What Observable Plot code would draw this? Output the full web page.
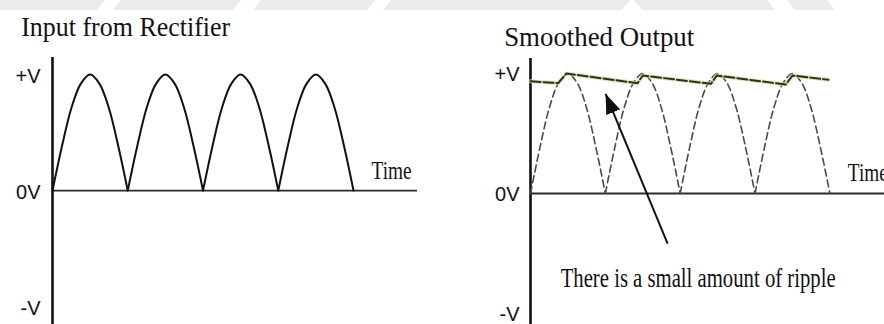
<!DOCTYPE html>
<html>
<head>
<meta charset="utf-8">
<script src="https://cdn.jsdelivr.net/npm/d3@7"></script>
<script src="https://cdn.jsdelivr.net/npm/@observablehq/plot@0.6"></script>
<style>
  html, body { margin: 0; padding: 0; background: #fff; }
  #page { position: relative; width: 884px; height: 324px; overflow: hidden; }
  #charts { display: flex; width: 884px; height: 324px; }
  #charts svg { display: block; flex: none; }
  #band { position: absolute; left: 0; top: 0; }
</style>
</head>
<body>
<div id="page">
  <svg id="band" width="884" height="10" viewBox="0 0 884 10">
    <g fill="#ebebeb">
      <polygon points="0,0 105,0 97,10 0,10"/>
      <polygon points="121,0 241,0 233,10 113,10"/>
      <polygon points="261,0 375,0 367,10 253,10"/>
      <polygon points="391,0 630,0 622,10 383,10"/>
      <polygon points="634,0 767,0 775,10 642,10"/>
      <polygon points="787,0 827,0 835,10 795,10"/>
    </g>
  </svg>
  <div id="charts"></div>
</div>
<script>
// Rectified input: time in half-cycles of the supply, voltage as a fraction of +V
const waveTime = [
  0, 0.125, 0.25, 0.375, 0.5, 0.625, 0.75, 0.875,
  1, 1.125, 1.25, 1.375, 1.5, 1.625, 1.75, 1.875,
  2, 2.125, 2.25, 2.375, 2.5, 2.625, 2.75, 2.875,
  3, 3.125, 3.25, 3.375, 3.5, 3.625, 3.75, 3.875,
  4
];
const waveVolts = [
  0, 0.38, 0.71, 0.92, 1, 0.92, 0.71, 0.38,
  0, 0.38, 0.71, 0.92, 1, 0.92, 0.71, 0.38,
  0, 0.38, 0.71, 0.92, 1, 0.92, 0.71, 0.38,
  0, 0.38, 0.71, 0.92, 1, 0.92, 0.71, 0.38,
  0
];

// Smoothed output: the capacitor tops up at each peak and sags until the next one
const smoothTime  = [0, 0.37, 0.48, 1.43, 1.5, 2.41, 2.49, 3.41, 3.5, 3.98];
const smoothVolts = [0.936, 0.919, 1.0, 0.919, 0.983, 0.914, 0.983, 0.908, 0.983, 0.948];

// Voltage axis
const voltTicks  = [1, 0, -1];
const voltLabels = ["+V", "0V", "-V"];

// Text
const titles     = ["Input from Rectifier", "Smoothed Output"];
const timeLabel  = "Time";
const rippleNote = "There is a small amount of ripple";

// Annotation anchors, in (time, volts)
const timeLabelAt     = [4.24, 0.1];
const rippleNoteAt    = [2.24, -0.781];
const rippleArrowFrom = [1.832, -0.417];
const rippleArrowTo   = [1.003, 0.831];

const serif = "'Liberation Serif', 'Times New Roman', serif";
const sans  = "'Liberation Sans', Arial, sans-serif";
const ink   = "#111";

// Split the rectified wave into separate humps so each zero is a sharp cusp
function humps(times, volts) {
  const rows = [];
  let k = 0;
  times.forEach((t, i) => {
    rows.push({t, v: volts[i], k});
    if (i > 0 && i < times.length - 1 && volts[i] === 0) {
      k += 1;
      rows.push({t, v: volts[i], k});
    }
  });
  return rows;
}
const wave = humps(waveTime, waveVolts);
const smooth = smoothTime.map((t, i) => ({t, v: smoothVolts[i]}));
const ticks = voltTicks.map((v, i) => ({v, label: voltLabels[i]}));

// Filled triangular arrowhead
function arrowHead(color, context) {
  const doc = (context && context.document) || document;
  const ns = "http://www.w3.org/2000/svg";
  const m = doc.createElementNS(ns, "marker");
  m.setAttribute("viewBox", "-20 -8 20 16");
  m.setAttribute("markerWidth", 20);
  m.setAttribute("markerHeight", 16);
  m.setAttribute("markerUnits", "userSpaceOnUse");
  m.setAttribute("orient", "auto");
  m.setAttribute("refX", 0);
  m.setAttribute("refY", 0);
  const p = doc.createElementNS(ns, "path");
  p.setAttribute("d", "M-20,-7.5L0,0L-20,7.5Z");
  p.setAttribute("fill", color);
  p.setAttribute("stroke", "none");
  m.appendChild(p);
  return m;
}

function voltLabelMark(dx, dy, size) {
  return Plot.text(ticks, {
    x: 0, y: "v", text: "label", textAnchor: "end", dx, dy,
    fontFamily: sans, fontSize: size, fill: ink
  });
}

function fitText(svg, content, length) {
  d3.select(svg).selectAll("text")
    .filter(function () { return this.textContent === content; })
    .attr("textLength", length)
    .attr("lengthAdjust", "spacingAndGlyphs");
}

const left = Plot.plot({
  width: 442, height: 324,
  marginLeft: 52, marginRight: 25, marginTop: 57, marginBottom: 0,
  x: {domain: [0, 4.85], axis: null},
  y: {domain: [-1.155, 1.147], axis: null},
  style: {background: "transparent", overflow: "visible"},
  marks: [
    Plot.ruleY([0], {stroke: "#2a2a2a", strokeWidth: 1.8}),
    Plot.ruleX([0], {stroke: ink, strokeWidth: 2.6}),
    Plot.line(wave, {x: "t", y: "v", z: "k", curve: "catmull-rom", stroke: ink, strokeWidth: 2}),
    voltLabelMark(-12, 2, 20),
    Plot.text([titles[0]], {
      text: d => d, frameAnchor: "top-left", dx: -31.3, dy: -22,
      textAnchor: "start", lineAnchor: "bottom", fontFamily: serif, fontSize: 28, fill: ink
    }),
    Plot.text([timeLabel], {
      text: d => d, x: timeLabelAt[0], y: timeLabelAt[1],
      textAnchor: "start", lineAnchor: "bottom", fontFamily: serif, fontSize: 25, fill: ink
    })
  ]
});
fitText(left, titles[0], 209);
fitText(left, timeLabel, 40);

const right = Plot.plot({
  width: 442, height: 324,
  marginLeft: 88, marginRight: 0, marginTop: 58, marginBottom: 0,
  x: {domain: [0, 4.73], axis: null},
  y: {domain: [-1.092, 1.125], axis: null},
  style: {background: "transparent", overflow: "visible"},
  marks: [
    Plot.ruleY([0], {stroke: "#2a2a2a", strokeWidth: 2}),
    Plot.ruleX([0], {stroke: ink, strokeWidth: 2.6}),
    Plot.line(wave, {x: "t", y: "v", z: "k", curve: "catmull-rom", stroke: "#4a4a4a", strokeWidth: 1.6, strokeDasharray: "7,4"}),
    Plot.line(smooth, {x: "t", y: "v", stroke: "#dcdca8", strokeWidth: 4, strokeOpacity: 0.8}),
    Plot.line(smooth, {x: "t", y: "v", stroke: "#2e2e22", strokeWidth: 2, strokeDasharray: "10,3"}),
    Plot.link([{from: rippleArrowFrom, to: rippleArrowTo}], {
      x1: d => d.from[0], y1: d => d.from[1], x2: d => d.to[0], y2: d => d.to[1],
      stroke: ink, strokeWidth: 2, markerEnd: arrowHead
    }),
    voltLabelMark(-11, 1, 20),
    Plot.text([titles[1]], {
      text: d => d, frameAnchor: "top-left", dx: -26.3, dy: -13,
      textAnchor: "start", lineAnchor: "bottom", fontFamily: serif, fontSize: 28, fill: ink
    }),
    Plot.text([timeLabel], {
      text: d => d, x: timeLabelAt[0], y: timeLabelAt[1],
      textAnchor: "start", lineAnchor: "bottom", fontFamily: serif, fontSize: 25, fill: ink
    }),
    Plot.text([rippleNote], {
      text: d => d, x: rippleNoteAt[0], y: rippleNoteAt[1],
      textAnchor: "middle", lineAnchor: "bottom", fontFamily: serif, fontSize: 27, fill: ink
    })
  ]
});
fitText(right, titles[1], 190);
fitText(right, timeLabel, 40);
fitText(right, rippleNote, 275);

document.getElementById("charts").append(left, right);
</script>
</body>
</html>
